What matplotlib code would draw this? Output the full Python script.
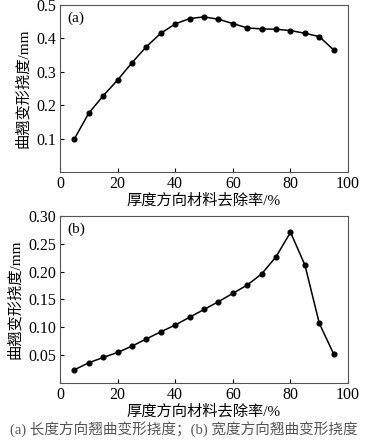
import matplotlib
matplotlib.use("Agg")
import matplotlib.pyplot as plt

x = [5, 10, 15, 20, 25, 30, 35, 40, 45, 50, 55, 60, 65, 70, 75, 80, 85, 90, 95]
y_a = [0.099, 0.176, 0.228, 0.275, 0.327, 0.375, 0.415, 0.443, 0.459, 0.464, 0.457,
       0.444, 0.431, 0.428, 0.427, 0.423, 0.415, 0.405, 0.365]
y_b = [0.0234, 0.036, 0.0456, 0.0546, 0.066, 0.079, 0.0918, 0.104, 0.118, 0.132, 0.146,
       0.161, 0.176, 0.196, 0.227, 0.271, 0.212, 0.107, 0.0516]
xticks = [0, 20, 40, 60, 80, 100]
yticks_a = [0.1, 0.2, 0.3, 0.4, 0.5]
yticks_b = [0.05, 0.10, 0.15, 0.20, 0.25, 0.30]
xlabel = "厚度方向材料去除率/%"
ylabel = "曲翘变形挠度/mm"
caption = "(a) 长度方向翘曲变形挠度；(b) 宽度方向翘曲变形挠度"

serif = ["Liberation Serif", "DejaVu Serif"]
cjk = ["Liberation Serif", "Noto Sans CJK SC", "DejaVu Sans"]

fig = plt.figure(figsize=(3.68, 4.42), dpi=100)
ax1 = fig.add_axes([0.163, 0.611, 0.783, 0.378])
ax2 = fig.add_axes([0.163, 0.134, 0.783, 0.377])

def style(ax, yt, ylim, tag):
    ax.plot(x, yt, color="black", lw=1.1, marker="o", ms=3.4)
    ax.set_xlim(0, 100)
    ax.set_ylim(*ylim)
    ax.set_xticks(xticks)
    ax.set_xticklabels([str(v) for v in xticks], family=serif, fontsize=11.5)
    ax.tick_params(direction="in", length=3, width=0.8, pad=3)
    ax.set_xlabel(xlabel, family=cjk, fontsize=11, labelpad=1)
    ax.set_ylabel(ylabel, family=cjk, fontsize=11, labelpad=4)
    for s in ax.spines.values():
        s.set_color("#555555")
        s.set_linewidth(0.8)
    ax.text(0.025, 0.96, tag, transform=ax.transAxes, ha="left", va="top",
            family=serif, fontsize=11)

style(ax1, y_a, (0, 0.5), "(a)")
ax1.set_yticks(yticks_a)
ax1.set_yticklabels(["%.1f" % v for v in yticks_a], family=serif, fontsize=11.5)

style(ax2, y_b, (0, 0.30), "(b)")
ax2.set_yticks(yticks_b)
ax2.set_yticklabels(["%.2f" % v for v in yticks_b], family=serif, fontsize=11.5)

fig.text(0.5, 0.030, caption, ha="center", va="center", family=cjk,
         fontsize=10.5, color="#555555")

fig.savefig("out.png", dpi=100)
